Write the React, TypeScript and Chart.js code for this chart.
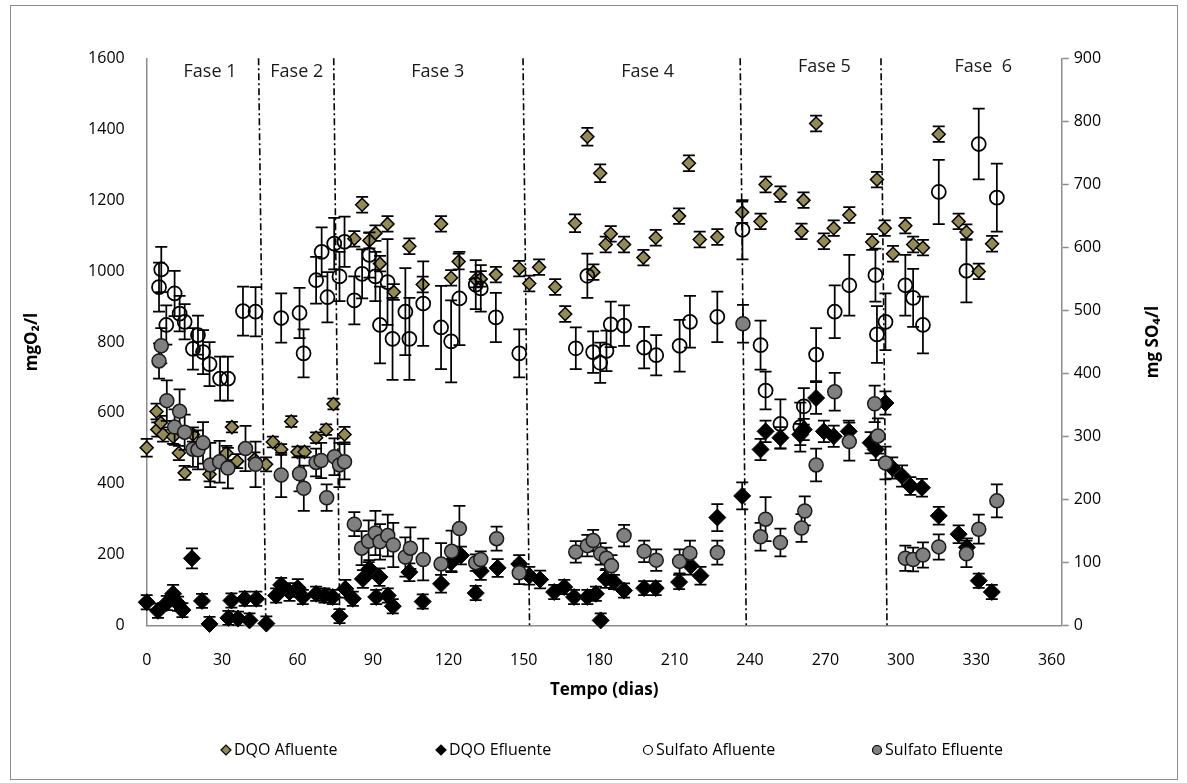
import React, { useEffect, useRef } from 'react';
import { Chart, registerables } from 'chart.js';

Chart.register(...registerables);

// ---------- Data ----------
// DQO Afluente (mg O2/l, left axis)
const dqoAfDays = [0, 3.9, 4.2, 5.6, 6.5, 10.5, 12.8, 15.1, 18.4, 25, 31.7, 33.9, 36, 42.9, 47.5, 50.2, 53.5, 57.5, 60, 62.8, 67.4, 71.4, 74.3, 78.7, 82.6, 85.7, 88.6, 91, 92.8, 95.8, 98.3, 104.5, 109.8, 117.1, 121.1, 124.1, 130.9, 132.9, 138.9, 148.2, 152.2, 156.1, 162.5, 166.5, 170.4, 175.3, 177.7, 180.4, 182.6, 184.6, 189.9, 197.6, 202.5, 211.8, 215.7, 220, 227, 236.9, 244.2, 246.2, 252.1, 260.5, 261.3, 266.3, 269.4, 273.3, 279.5, 288.6, 290.5, 293.6, 296.9, 301.8, 304.9, 308.8, 315.1, 323, 326.1, 331, 336.3];
const dqoAfVals = [502, 604, 553, 572, 539, 533, 487, 431, 539, 427, 487, 560, 464, 469, 455, 518, 497, 576, 490, 490, 530, 553, 625, 539, 1091, 1187, 1086, 1107, 1021, 1133, 941, 1070, 962, 1133, 981, 1027, 976, 978, 990, 1007, 965, 1011, 955, 879, 1135, 1379, 997, 1276, 1075, 1105, 1075, 1038, 1094, 1155, 1304, 1089, 1096, 1166, 1140, 1244, 1217, 1112, 1200, 1416, 1084, 1121, 1158, 1082, 1258, 1121, 1049, 1128, 1075, 1066, 1386, 1140, 1110, 999, 1077];
const dqoAfErr = [25, 22, 20, 20, 20, 20, 20, 20, 20, 20, 20, 15, 20, 20, 20, 15, 15, 15, 15, 15, 15, 15, 15, 22, 22, 22, 22, 22, 22, 22, 22, 22, 22, 22, 22, 22, 22, 22, 22, 22, 22, 22, 22, 22, 25, 25, 22, 25, 22, 22, 22, 22, 22, 22, 22, 22, 22, 30, 22, 22, 22, 22, 22, 22, 22, 22, 22, 22, 22, 22, 22, 22, 22, 22, 22, 22, 22, 22, 22];

// DQO Efluente (mg O2/l, left axis)
const dqoEfDays = [0, 4.5, 8, 10.5, 12.5, 14.2, 18, 22, 25, 32.5, 33.7, 36.3, 39, 40.9, 43.6, 47.6, 51.5, 53.5, 56.8, 60.1, 62.1, 67.4, 70.7, 74, 76.7, 79, 82, 86, 88.6, 91.3, 92.6, 95.9, 97.9, 104.5, 109.8, 117.1, 121.1, 125, 130.9, 132.9, 139.6, 148.2, 152.2, 156.5, 162.1, 166.1, 170, 175.3, 178.7, 180.6, 182.6, 185.9, 189.9, 197.9, 202.5, 211.8, 216.4, 220.3, 227, 236.9, 244.2, 246.2, 252.1, 260, 261.4, 266.3, 269.4, 273.3, 279.3, 288, 290, 293.9, 296.6, 300.5, 303.8, 308.4, 315.1, 323, 326.3, 331, 336.2];
const dqoEfVals = [66, 42, 64, 90, 62, 44, 190, 70, 5, 22, 71, 20, 76, 15, 76, 6, 85, 115, 95, 106, 81, 90, 85, 81, 27, 104, 76, 132, 160, 81, 137, 85, 55, 151, 68, 118, 179, 198, 92, 154, 163, 174, 141, 130, 95, 109, 81, 81, 90, 15, 132, 123, 99, 106, 106, 123, 169, 141, 305, 366, 497, 548, 530, 539, 553, 642, 548, 534, 548, 516, 497, 628, 445, 422, 394, 389, 310, 258, 221, 127, 95];
const dqoEfErr = [20, 20, 20, 25, 20, 20, 28, 20, 20, 20, 20, 20, 20, 20, 20, 20, 20, 20, 25, 25, 20, 20, 20, 20, 20, 25, 20, 25, 25, 20, 25, 20, 20, 25, 20, 25, 25, 25, 20, 25, 25, 25, 25, 25, 20, 20, 20, 20, 20, 20, 25, 20, 20, 20, 20, 20, 25, 25, 38, 38, 30, 30, 30, 30, 30, 45, 30, 30, 30, 30, 30, 33, 30, 30, 25, 25, 25, 25, 25, 20, 20];

// Sulfato Afluente (mg SO4/l, right axis)
const sulfAfDays = [4.9, 5.8, 7.8, 11.1, 13.1, 15.1, 18.4, 20.4, 22.4, 25, 29.2, 32.3, 38.3, 43.3, 53.5, 60.8, 62.4, 67.4, 69.6, 71.9, 74.6, 76.7, 78.7, 82.6, 85.7, 88.6, 91, 92.8, 95.8, 97.8, 102.9, 104.5, 110, 117.1, 121.1, 124.4, 130.9, 132.9, 138.9, 148.2, 170.7, 175.3, 177.6, 180.4, 182.9, 184.6, 189.9, 197.9, 202.7, 212, 216.1, 227, 237, 244.2, 246.2, 252.1, 260, 261.4, 266.3, 273.7, 279.5, 289.9, 290.5, 293.9, 301.8, 304.9, 308.8, 315.1, 326.1, 331, 338.2];
const sulfAfVals = [537, 565, 477, 527, 495, 482, 439, 461, 434, 415, 392, 392, 499, 498, 488, 496, 432, 548, 593, 521, 606, 554, 609, 516, 558, 588, 554, 477, 545, 455, 498, 455, 511, 473, 451, 519, 541, 535, 489, 432, 440, 555, 434, 417, 436, 478, 476, 441, 429, 444, 482, 490, 628, 445, 373, 320, 315, 348, 430, 498, 540, 556, 462, 482, 540, 520, 477, 688, 563, 764, 679];
const sulfAfErr = [39, 36, 31, 36, 28, 28, 33, 31, 35, 35, 35, 35, 39, 39, 39, 40, 38, 37, 39, 40, 41, 39, 40, 38, 39, 36, 39, 61, 68, 65, 69, 65, 67, 66, 65, 74, 39, 37, 39, 38, 33, 35, 33, 32, 32, 36, 32, 33, 32, 41, 41, 40, 47, 39, 30, 39, 39, 29, 42, 42, 48, 42, 45, 45, 48, 46, 45, 51, 50, 56, 54];

// Sulfato Efluente (mg SO4/l, right axis)
const sulfEfDays = [4.9, 5.8, 8, 11.1, 13.1, 15.1, 18.4, 20.4, 22.4, 25.3, 29, 32.3, 39.3, 43.3, 53.5, 60.8, 62.5, 67.4, 69.4, 71.6, 74.7, 76.7, 78.7, 82.6, 85.5, 88.3, 91, 92.8, 95.9, 98.1, 102.9, 104.9, 110, 117.1, 121.3, 124.4, 130.9, 132.9, 139.2, 148.2, 170.7, 175.3, 177.6, 180.6, 182.9, 184.9, 189.9, 197.9, 202.7, 212, 216.1, 227, 237.2, 244.2, 246.2, 252.1, 260.5, 261.8, 266.3, 273.7, 279.5, 289.6, 290.9, 293.9, 301.8, 304.9, 308.8, 315.1, 326.1, 331, 338.2];
const sulfEfVals = [420, 444, 357, 315, 340, 307, 280, 279, 290, 255, 260, 250, 281, 256, 239, 241, 218, 259, 262, 203, 268, 255, 260, 161, 123, 134, 147, 133, 143, 128, 109, 123, 105, 98, 118, 154, 100, 105, 138, 84, 117, 127, 135, 114, 107, 95, 143, 118, 104, 102, 115, 116, 479, 141, 169, 132, 155, 182, 255, 371, 292, 352, 301, 258, 107, 105, 112, 125, 114, 153, 198];
const sulfEfErr = [28, 28, 32, 28, 35, 28, 28, 31, 33, 35, 33, 32, 36, 36, 35, 28, 36, 22, 28, 21, 29, 35, 28, 19, 27, 33, 35, 28, 33, 35, 31, 33, 33, 33, 33, 36, 13, 13, 19, 18, 17, 17, 17, 17, 17, 17, 17, 17, 17, 19, 20, 19, 30, 22, 35, 22, 22, 23, 26, 30, 30, 29, 28, 26, 20, 19, 20, 20, 21, 23, 26];

// Phase boundaries (dash-dot lines, day at top and at bottom of the plot)
const phaseLineTopX = [44.5, 74.4, 149.7, 236.1, 292.1];
const phaseLineBottomX = [47.4, 76.8, 152.3, 238.5, 294.5];
// Phase labels
const phaseLabels = ['Fase 1', 'Fase 2', 'Fase 3', 'Fase 4', 'Fase 5', 'Fase  6'];
const phaseLabelX = [25.2, 59.7, 115.8, 199.3, 269.6, 332.8];
const phaseLabelY = [1562, 1562, 1562, 1562, 1575, 1575];

// Axis ticks
const xTickValues = [0, 30, 60, 90, 120, 150, 180, 210, 240, 270, 300, 330, 360];
const xMax = 364;
const yLeftMax = 1600;
const yRightMax = 900;

const FONT = '"Open Sans", "DejaVu Sans", sans-serif';
const AXIS_GRAY = '#8c8c8c';

const toPoints = (xs: number[], ys: number[]) => xs.map((x, i) => ({ x, y: ys[i] }));

const errorBarPlugin = {
  id: 'errorBars',
  beforeDatasetDraw(chart: any, args: any) {
    const ds = chart.data.datasets[args.index];
    if (!ds.errors) return;
    const meta = args.meta;
    const yScale = chart.scales[meta.yAxisID];
    const ctx = chart.ctx;
    const area = chart.chartArea;
    ctx.save();
    ctx.beginPath();
    ctx.rect(area.left - 20, area.top - 20, area.right - area.left + 40, area.bottom - area.top + 20);
    ctx.clip();
    ctx.strokeStyle = '#000';
    ctx.lineWidth = 1.75;
    meta.data.forEach((pt: any, i: number) => {
      const v = ds.data[i].y;
      const e = ds.errors[i];
      const x = pt.x;
      const yt = yScale.getPixelForValue(v + e);
      const yb = yScale.getPixelForValue(Math.max(v - e, 0));
      ctx.beginPath();
      ctx.moveTo(x, yt);
      ctx.lineTo(x, yb);
      ctx.moveTo(x - 6, yt);
      ctx.lineTo(x + 6, yt);
      if (v - e >= 0) {
        ctx.moveTo(x - 6, yb);
        ctx.lineTo(x + 6, yb);
      }
      ctx.stroke();
    });
    ctx.restore();
  },
};

const annotationPlugin = {
  id: 'annotations',
  afterDatasetsDraw(chart: any) {
    const ctx = chart.ctx;
    const xs = chart.scales.x;
    const ys = chart.scales.y;
    ctx.save();
    ctx.fillStyle = '#1a1a1a';
    ctx.font = `18px ${FONT}`;
    ctx.textAlign = 'center';
    ctx.textBaseline = 'middle';
    phaseLabels.forEach((t, i) => {
      ctx.fillText(t, xs.getPixelForValue(phaseLabelX[i]), ys.getPixelForValue(phaseLabelY[i]));
    });
    ctx.restore();
  },
  afterDraw(chart: any) {
    const ctx = chart.ctx;
    const area = chart.chartArea;
    // right axis title (rotated bottom-to-top like the left one)
    ctx.save();
    ctx.translate(1142, (area.top + area.bottom) / 2);
    ctx.rotate(-Math.PI / 2);
    ctx.font = `bold 17px ${FONT}`;
    ctx.fillStyle = '#000';
    ctx.textAlign = 'center';
    ctx.textBaseline = 'middle';
    ctx.fillText('mg SO\u2084/l', 0, 0);
    ctx.restore();

    // legend
    const items = chart.data.datasets.filter((d: any) => d.inLegend);
    const markerX = [215, 430, 637, 866];
    const ly = 744;
    ctx.save();
    ctx.font = `16px ${FONT}`;
    ctx.textBaseline = 'middle';
    ctx.textAlign = 'left';
    items.forEach((d: any, i: number) => {
      const mx = markerX[i];
      ctx.beginPath();
      if (d.pointStyle === 'rectRot') {
        const r = 5;
        ctx.moveTo(mx - r, ly);
        ctx.lineTo(mx, ly - r);
        ctx.lineTo(mx + r, ly);
        ctx.lineTo(mx, ly + r);
        ctx.closePath();
      } else {
        ctx.arc(mx, ly, 4.5, 0, Math.PI * 2);
      }
      ctx.fillStyle = d.backgroundColor;
      ctx.fill();
      ctx.lineWidth = 1.2;
      ctx.strokeStyle = '#000';
      ctx.stroke();
      ctx.fillStyle = '#000';
      ctx.fillText(d.label, mx + 8, ly);
    });
    ctx.restore();
  },
};

export default function App() {
  const ref = useRef<HTMLCanvasElement>(null);

  useEffect(() => {
    const canvas = ref.current;
    if (!canvas) return;

    const phaseDatasets = phaseLineTopX.map((tx, i) => ({
      label: 'fase-' + i,
      data: [
        { x: tx, y: yLeftMax },
        { x: phaseLineBottomX[i], y: 0 },
      ],
      showLine: true,
      pointRadius: 0,
      borderColor: '#000',
      borderWidth: 1.6,
      borderDash: [7, 3, 2, 3],
      yAxisID: 'y',
      order: 10,
      clip: false,
    }));

    const chart = new Chart(canvas, {
      type: 'scatter',
      data: {
        datasets: [
          {
            label: 'DQO Afluente',
            data: toPoints(dqoAfDays, dqoAfVals),
            errors: dqoAfErr,
            inLegend: true,
            pointStyle: 'rectRot',
            pointRadius: 6.5,
            backgroundColor: '#948A54',
            borderColor: '#000',
            borderWidth: 1.5,
            yAxisID: 'y',
            order: 4,
            clip: false,
          } as any,
          {
            label: 'DQO Efluente',
            data: toPoints(dqoEfDays, dqoEfVals),
            errors: dqoEfErr,
            inLegend: true,
            pointStyle: 'rectRot',
            pointRadius: 8.5,
            backgroundColor: '#000',
            borderColor: '#000',
            borderWidth: 1,
            yAxisID: 'y',
            order: 3,
            clip: false,
          } as any,
          {
            label: 'Sulfato Afluente',
            data: toPoints(sulfAfDays, sulfAfVals),
            errors: sulfAfErr,
            inLegend: true,
            pointStyle: 'circle',
            pointRadius: 7,
            backgroundColor: 'rgba(255,255,255,0)',
            borderColor: '#000',
            borderWidth: 1.75,
            yAxisID: 'y1',
            order: 2,
            clip: false,
          } as any,
          {
            label: 'Sulfato Efluente',
            data: toPoints(sulfEfDays, sulfEfVals),
            errors: sulfEfErr,
            inLegend: true,
            pointStyle: 'circle',
            pointRadius: 7,
            backgroundColor: '#808080',
            borderColor: '#1a1a1a',
            borderWidth: 1.5,
            yAxisID: 'y1',
            order: 1,
            clip: false,
          } as any,
          ...(phaseDatasets as any[]),
        ],
      },
      options: {
        responsive: false,
        devicePixelRatio: 1,
        animation: false,
        layout: { padding: { top: 52.3, left: 0, right: 0, bottom: 0 } },
        font: { family: FONT },
        plugins: {
          legend: { display: false },
          tooltip: { enabled: false },
        },
        scales: {
          x: {
            type: 'linear',
            min: 0,
            max: xMax,
            afterBuildTicks: (s: any) => {
              s.ticks = xTickValues.map((v) => ({ value: v }));
            },
            afterFit: (s: any) => {
              s.height = 153.3;
            },
            grid: { display: false, drawTicks: false },
            border: { display: true, color: AXIS_GRAY, width: 1.5 },
            ticks: {
              padding: 25,
              color: '#000',
              font: { family: FONT, size: 16 },
              maxRotation: 0,
              autoSkip: false,
              callback: (v: any) => String(v),
            },
            title: {
              display: true,
              text: 'Tempo (dias)',
              color: '#000',
              font: { family: FONT, size: 17, weight: 'bold' },
              padding: { top: 0, bottom: 79 },
            },
          },
          y: {
            type: 'linear',
            position: 'left',
            min: 0,
            max: yLeftMax,
            afterFit: (s: any) => {
              s.width = 135.7;
            },
            grid: { display: false, drawTicks: false },
            border: { display: true, color: AXIS_GRAY, width: 1.5 },
            ticks: {
              stepSize: 200,
              padding: 22,
              color: '#000',
              font: { family: FONT, size: 16 },
              callback: (v: any) => String(v),
            },
            title: {
              display: true,
              text: 'mgO\u2082/l',
              color: '#000',
              font: { family: FONT, size: 17, weight: 'bold' },
              padding: { top: 11, bottom: 0 },
            },
          },
          y1: {
            type: 'linear',
            position: 'right',
            min: 0,
            max: yRightMax,
            afterFit: (s: any) => {
              s.width = 115.3;
            },
            grid: {
              display: true,
              drawOnChartArea: false,
              drawTicks: true,
              tickLength: 7,
              tickColor: AXIS_GRAY,
              tickWidth: 1.5,
            },
            border: { display: true, color: AXIS_GRAY, width: 1.5 },
            ticks: {
              stepSize: 100,
              padding: 5,
              color: '#000',
              font: { family: FONT, size: 16 },
              callback: (v: any) => String(v),
            },
          },
        },
      } as any,
      plugins: [errorBarPlugin, annotationPlugin],
    });

    return () => chart.destroy();
  }, []);

  return (
    <div
      style={{
        position: 'absolute',
        left: 10,
        top: 5,
        width: 1168,
        height: 775,
        border: `1px solid ${AXIS_GRAY}`,
        boxSizing: 'border-box',
        background: '#fff',
      }}
    >
      <canvas ref={ref} width={1166} height={773} style={{ display: 'block', width: 1166, height: 773 }} />
    </div>
  );
}
